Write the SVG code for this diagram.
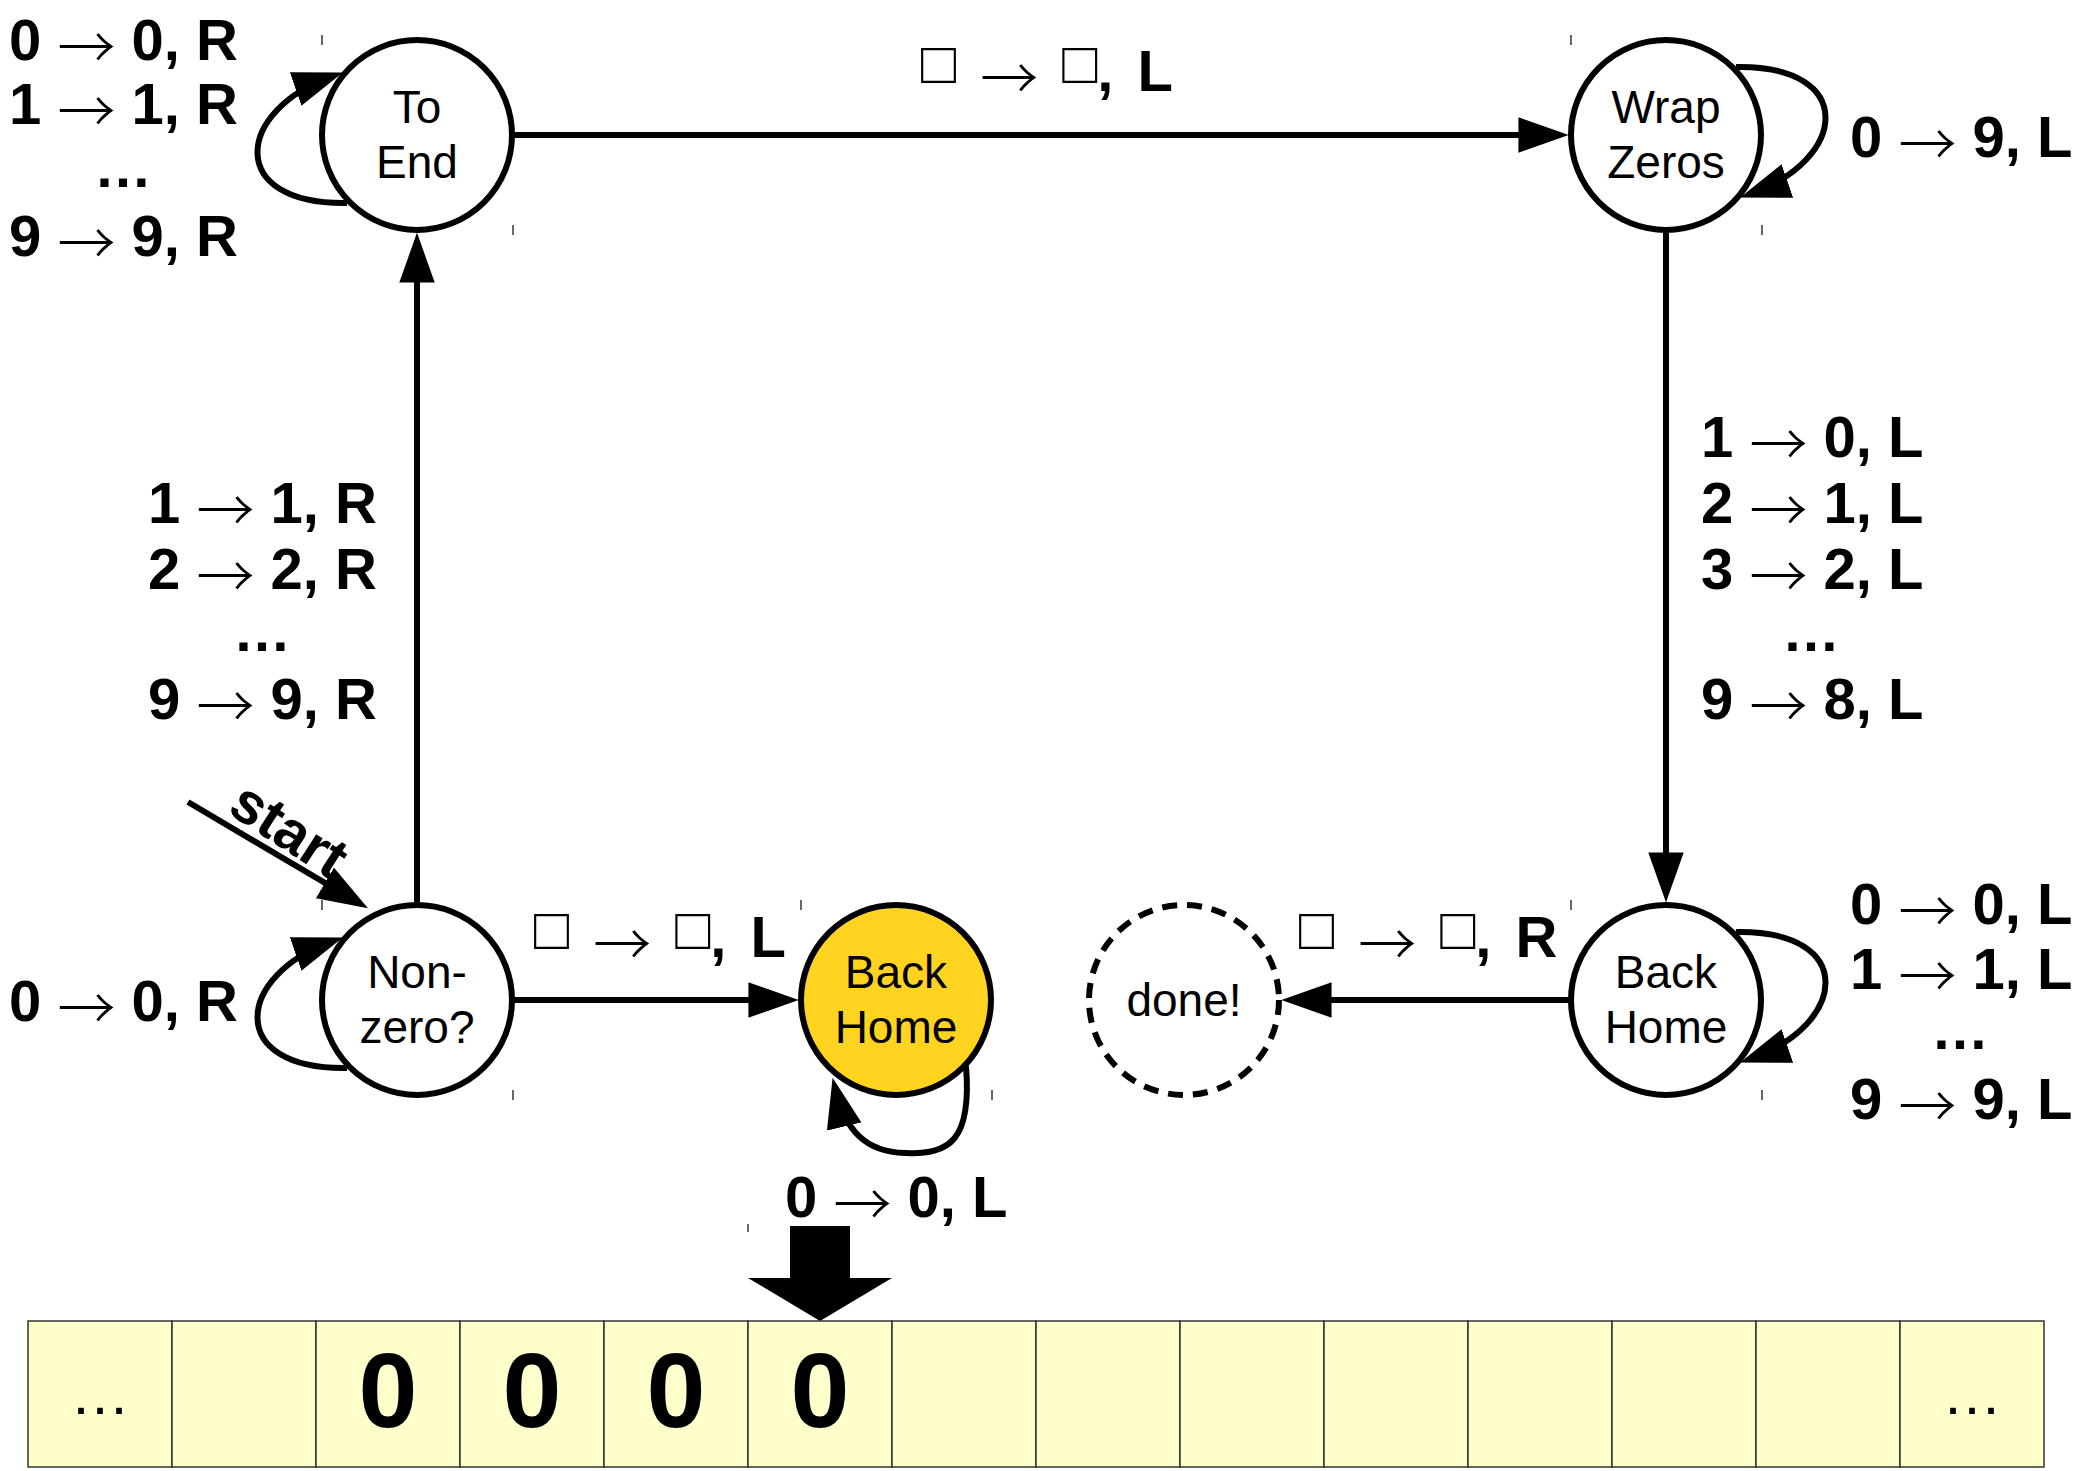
<svg xmlns="http://www.w3.org/2000/svg" width="2076" height="1471" viewBox="0 0 2076 1471">
<style>
.node{fill:#ffffff;stroke:#000;stroke-width:6}
.yellow{fill:#ffd320}
.dashed{stroke-dasharray:15 10}
.nt{font-family:"Liberation Sans",Arial,sans-serif;font-size:46px;fill:#000;text-anchor:middle}
.lbl{font-family:"Liberation Sans",Arial,sans-serif;font-size:58px;font-weight:bold;fill:#000}
.dots{text-anchor:middle}
.ar{font-family:"Noto Sans CJK SC",sans-serif;font-weight:300}
.sq{font-weight:normal}
.bl{word-spacing:8px}
.edge{fill:none;stroke:#000;stroke-width:6;marker-end:url(#ah)}
.tick{stroke:#333;stroke-width:1.5}
.cell{fill:#ffffcc;stroke:#333;stroke-width:1.5}
.tz{font-family:"Liberation Sans",Arial,sans-serif;font-size:106px;font-weight:bold;fill:#000;text-anchor:middle}
.te{font-family:"Liberation Sans",Arial,sans-serif;font-size:60px;fill:#000;text-anchor:middle}
</style>
<defs>
<marker id="ah" markerUnits="userSpaceOnUse" markerWidth="50" markerHeight="36" viewBox="0 0 48 34" refX="38" refY="17" orient="auto">
<path d="M0,0 L48,17 L0,34 z" fill="#000"/>
</marker>
</defs>
<rect width="2076" height="1471" fill="#ffffff"/>

<g id="connectors">
<path class="edge" d="M512,135 L1558,135"/>
<path class="edge" d="M1666,232 L1666,892"/>
<path class="edge" d="M417,902 L417,243"/>
<path class="edge" d="M514,1000 L788,1000"/>
<path class="edge" d="M1568,1000 L1292,1000"/>
<path class="edge" d="M188,802 L359,903"/>
<path class="edge" d="M347,203 C225,205 235,110 333,76"/>
<path class="edge" d="M347,1068 C225,1070 235,975 333,941"/>
<path class="edge" d="M1736,67 C1858,65 1848,160 1750,194"/>
<path class="edge" d="M1736,932 C1858,930 1848,1025 1750,1059"/>
<path class="edge" d="M966,1066 C972,1140 950,1155 905,1153 C865,1152 845,1130 835,1088"/>
</g>

<g id="node-toend">
<circle class="node" cx="417" cy="135" r="95"/>
<text class="nt" x="417" y="123">To</text>
<text class="nt" x="417" y="178">End</text>
</g>
<g id="node-wrapzeros">
<circle class="node" cx="1666" cy="135" r="95"/>
<text class="nt" x="1666" y="123">Wrap</text>
<text class="nt" x="1666" y="178">Zeros</text>
</g>
<g id="node-nonzero">
<circle class="node" cx="417" cy="1000" r="95"/>
<text class="nt" x="417" y="988">Non-</text>
<text class="nt" x="417" y="1043">zero?</text>
</g>
<g id="node-backhome1">
<circle class="node yellow" cx="896" cy="1000" r="95"/>
<text class="nt" x="896" y="988">Back</text>
<text class="nt" x="896" y="1043">Home</text>
</g>
<g id="node-done">
<circle class="node dashed" cx="1184" cy="1000" r="95"/>
<text class="nt" x="1184" y="1016">done!</text>
</g>
<g id="node-backhome2">
<circle class="node" cx="1666" cy="1000" r="95"/>
<text class="nt" x="1666" y="988">Back</text>
<text class="nt" x="1666" y="1043">Home</text>
</g>

<g id="labels">
<text class="lbl"><tspan x="9" y="60">0 <tspan class="ar" dy="9">→</tspan><tspan dy="-9"> 0, R</tspan></tspan><tspan x="9" y="124">1 <tspan class="ar" dy="9">→</tspan><tspan dy="-9"> 1, R</tspan></tspan><tspan class="dots" x="123" y="187">…</tspan><tspan x="9" y="256">9 <tspan class="ar" dy="9">→</tspan><tspan dy="-9"> 9, R</tspan></tspan></text>

<text class="lbl bl" x="921" y="91"><tspan class="sq" dy="-8">□</tspan><tspan dy="8"> </tspan><tspan class="ar" dy="9">→</tspan><tspan dy="-9"> </tspan><tspan class="sq" dy="-8">□</tspan><tspan dy="8">, L</tspan></text>

<text class="lbl" x="1850" y="157">0 <tspan class="ar" dy="9">→</tspan><tspan dy="-9"> 9, L</tspan></text>

<text class="lbl"><tspan x="148" y="523">1 <tspan class="ar" dy="9">→</tspan><tspan dy="-9"> 1, R</tspan></tspan><tspan x="148" y="589">2 <tspan class="ar" dy="9">→</tspan><tspan dy="-9"> 2, R</tspan></tspan><tspan class="dots" x="262" y="651">…</tspan><tspan x="148" y="719">9 <tspan class="ar" dy="9">→</tspan><tspan dy="-9"> 9, R</tspan></tspan></text>

<text class="lbl"><tspan x="1701" y="457">1 <tspan class="ar" dy="9">→</tspan><tspan dy="-9"> 0, L</tspan></tspan><tspan x="1701" y="523">2 <tspan class="ar" dy="9">→</tspan><tspan dy="-9"> 1, L</tspan></tspan><tspan x="1701" y="589">3 <tspan class="ar" dy="9">→</tspan><tspan dy="-9"> 2, L</tspan></tspan><tspan class="dots" x="1811" y="651">…</tspan><tspan x="1701" y="719">9 <tspan class="ar" dy="9">→</tspan><tspan dy="-9"> 8, L</tspan></tspan></text>

<text class="lbl" x="9" y="1021">0 <tspan class="ar" dy="9">→</tspan><tspan dy="-9"> 0, R</tspan></text>
<text class="lbl bl" x="534" y="957"><tspan class="sq" dy="-8">□</tspan><tspan dy="8"> </tspan><tspan class="ar" dy="9">→</tspan><tspan dy="-9"> </tspan><tspan class="sq" dy="-8">□</tspan><tspan dy="8">, L</tspan></text>
<text class="lbl bl" x="1299" y="957"><tspan class="sq" dy="-8">□</tspan><tspan dy="8"> </tspan><tspan class="ar" dy="9">→</tspan><tspan dy="-9"> </tspan><tspan class="sq" dy="-8">□</tspan><tspan dy="8">, R</tspan></text>

<text class="lbl"><tspan x="1850" y="924">0 <tspan class="ar" dy="9">→</tspan><tspan dy="-9"> 0, L</tspan></tspan><tspan x="1850" y="989">1 <tspan class="ar" dy="9">→</tspan><tspan dy="-9"> 1, L</tspan></tspan><tspan class="dots" x="1960" y="1049">…</tspan><tspan x="1850" y="1119">9 <tspan class="ar" dy="9">→</tspan><tspan dy="-9"> 9, L</tspan></tspan></text>

<text class="lbl" x="785" y="1217">0 <tspan class="ar" dy="9">→</tspan><tspan dy="-9"> 0, L</tspan></text>

<text class="lbl" font-size="52" transform="translate(226,812) rotate(33)">start</text>
</g>

<g id="ticks">
<line class="tick" x1="322" y1="35" x2="322" y2="45"/>
<line class="tick" x1="513" y1="225" x2="513" y2="235"/>
<line class="tick" x1="1571" y1="35" x2="1571" y2="45"/>
<line class="tick" x1="1762" y1="225" x2="1762" y2="235"/>
<line class="tick" x1="322" y1="900" x2="322" y2="910"/>
<line class="tick" x1="513" y1="1090" x2="513" y2="1100"/>
<line class="tick" x1="801" y1="900" x2="801" y2="910"/>
<line class="tick" x1="992" y1="1090" x2="992" y2="1100"/>
<line class="tick" x1="1571" y1="900" x2="1571" y2="910"/>
<line class="tick" x1="1762" y1="1090" x2="1762" y2="1100"/>
<line class="tick" x1="748" y1="1224" x2="748" y2="1232"/>
</g>

<g id="head">
<path d="M790,1226 L850,1226 L850,1278 L892,1278 L820,1321 L748,1278 L790,1278 z" fill="#000"/>
</g>

<g id="tape">
<rect class="cell" x="28" y="1321" width="144" height="146"/>
<rect class="cell" x="172" y="1321" width="144" height="146"/>
<rect class="cell" x="316" y="1321" width="144" height="146"/>
<rect class="cell" x="460" y="1321" width="144" height="146"/>
<rect class="cell" x="604" y="1321" width="144" height="146"/>
<rect class="cell" x="748" y="1321" width="144" height="146"/>
<rect class="cell" x="892" y="1321" width="144" height="146"/>
<rect class="cell" x="1036" y="1321" width="144" height="146"/>
<rect class="cell" x="1180" y="1321" width="144" height="146"/>
<rect class="cell" x="1324" y="1321" width="144" height="146"/>
<rect class="cell" x="1468" y="1321" width="144" height="146"/>
<rect class="cell" x="1612" y="1321" width="144" height="146"/>
<rect class="cell" x="1756" y="1321" width="144" height="146"/>
<rect class="cell" x="1900" y="1321" width="144" height="146"/>
<text class="te" x="100" y="1414">…</text>
<text class="tz" x="388" y="1427">0</text>
<text class="tz" x="532" y="1427">0</text>
<text class="tz" x="676" y="1427">0</text>
<text class="tz" x="820" y="1427">0</text>
<text class="te" x="1972" y="1414">…</text>
</g>
</svg>
